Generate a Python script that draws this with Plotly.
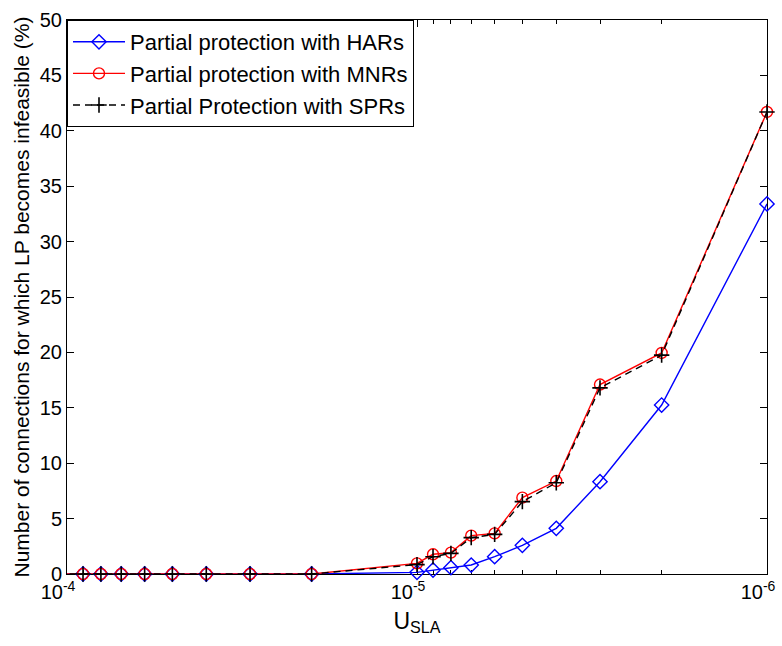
import plotly.graph_objects as go

# Data (U_SLA values; leading point lies beyond the visible axis range)
u_sla = [2e-4, 9e-5, 8e-5, 7e-5, 6e-5, 5e-5, 4e-5, 3e-5, 2e-5,
         1e-5, 9e-6, 8e-6, 7e-6, 6e-6, 5e-6, 4e-6, 3e-6, 2e-6, 1e-6]
har = [0, 0, 0, 0, 0, 0, 0, 0, 0,
       0.15, 0.36, 0.57, 0.81, 1.56, 2.59, 4.12, 8.33, 15.25, 33.4]
mnr = [0, 0, 0, 0, 0, 0, 0, 0, 0,
       0.96, 1.78, 1.93, 3.46, 3.67, 6.89, 8.39, 17.1, 19.95, 41.7]
spr = [0, 0, 0, 0, 0, 0, 0, 0, 0,
       0.85, 1.56, 1.86, 3.28, 3.58, 6.53, 8.24, 16.8, 19.75, 41.7]

names = ["Partial protection with HARs",
         "Partial protection with MNRs",
         "Partial Protection with SPRs"]

x_major = [1e-4, 1e-5, 1e-6]
x_major_text = ["10<sup>-4</sup>", "10<sup>-5</sup>", "10<sup>-6</sup>"]
x_minor = [m * 1e-5 for m in range(2, 10)] + [m * 1e-6 for m in range(2, 10)]
y_ticks = list(range(0, 51, 5))

FONT = "Liberation Sans, Arial, sans-serif"

fig = go.Figure()
fig.add_trace(go.Scatter(
    x=u_sla, y=har, name=names[0], mode="lines+markers",
    line=dict(color="#0000ff", width=1.4),
    marker=dict(symbol="diamond-open", size=11, color="#0000ff",
                line=dict(width=1.4, color="#0000ff")),
    cliponaxis=False))
fig.add_trace(go.Scatter(
    x=u_sla, y=mnr, name=names[1], mode="lines+markers",
    line=dict(color="#ff0000", width=1.4),
    marker=dict(symbol="circle-open", size=11, color="#ff0000",
                line=dict(width=1.4, color="#ff0000")),
    cliponaxis=False))
fig.add_trace(go.Scatter(
    x=u_sla, y=spr, name=names[2], mode="lines+markers",
    line=dict(color="#000000", width=1.4, dash="7px,5px"),
    marker=dict(symbol="cross-thin-open", size=11, color="#000000",
                line=dict(width=1.6, color="#000000")),
    cliponaxis=False))

fig.update_layout(
    width=782, height=646,
    margin=dict(l=67, r=15, t=20, b=72, autoexpand=False),
    paper_bgcolor="white", plot_bgcolor="white",
    font=dict(family=FONT, size=19, color="black"),
    showlegend=True,
    legend=dict(x=0.0, y=1.0, xanchor="left", yanchor="top",
                bgcolor="white", bordercolor="black", borderwidth=1,
                font=dict(size=22), tracegroupgap=0,
                itemwidth=52),
)
fig.update_xaxes(
    type="log", range=[-4, -6], automargin=False,
    tickmode="array", tickvals=x_major, ticktext=x_major_text,
    ticks="inside", ticklen=7, tickwidth=1, tickcolor="black",
    minor=dict(tickmode="array", tickvals=x_minor, ticks="inside",
               ticklen=4, tickwidth=1, tickcolor="black", showgrid=False),
    showline=True, linecolor="black", linewidth=1, mirror="allticks",
    showgrid=False, zeroline=False, layer="below traces",
    ticklabeloverflow="allow", ticklabelshift=9,
    title=dict(text="U<sub>SLA</sub>", standoff=10, font=dict(size=23)),
    tickfont=dict(size=20),
)
fig.update_yaxes(
    range=[0, 50], automargin=False, tickmode="array", tickvals=y_ticks,
    ticks="inside", ticklen=7, tickwidth=1, tickcolor="black",
    showline=True, linecolor="black", linewidth=1, mirror="allticks",
    showgrid=False, zeroline=False, layer="below traces",
    title=dict(text="Number of connections for which LP becomes infeasible (%)",
               standoff=4, font=dict(size=21)),
    tickfont=dict(size=20),
)

fig.write_html("out.html")
